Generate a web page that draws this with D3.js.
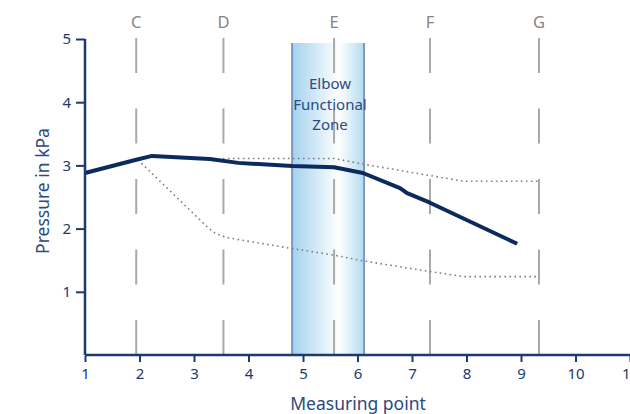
<!DOCTYPE html>
<meta charset="utf-8">
<style>
body { margin: 0; background: #fff; }
text { font-family: "Noto Sans", sans-serif; }
</style>
<body>
<script src="https://d3js.org/d3.v7.min.js"></script>
<script>

// measuring points and pressures (kPa)
var mainX = [1, 1.94, 2.23, 3.29, 3.81, 4.80, 5.57, 6.10, 6.78, 6.91, 7.33, 8.93];
var mainY = [2.88, 3.09, 3.15, 3.10, 3.04, 2.99, 2.97, 2.88, 2.64, 2.56, 2.41, 1.76];

var upperX = [3.53, 5.57, 6.10, 7.94, 9.33];
var upperY = [3.11, 3.11, 3.02, 2.75, 2.75];

var lowerX = [1.97, 3.25, 3.40, 3.60, 3.85, 4.76, 5.57, 6.10, 7.33, 7.94, 9.33];
var lowerY = [3.09, 2.02, 1.92, 1.86, 1.82, 1.69, 1.58, 1.49, 1.32, 1.24, 1.24];

var markerNames = ["C", "D", "E", "F", "G"];
var markerX = [1.94, 3.54, 5.57, 7.33, 9.33];

var zoneX = [4.80, 6.12];
var zoneLabel = ["Elbow", "Functional", "Zone"];

var xTicks = [1, 2, 3, 4, 5, 6, 7, 8, 9, 10, 11];
var yTicks = [1, 2, 3, 4, 5];

var width = 630, height = 414;
var navy = "#1b3a6d";

var x = d3.scaleLinear().domain([1, 11]).range([85, 630]);
var y = d3.scaleLinear().domain([0, 5]).range([355, 39]);

var svg = d3.select("body").append("svg")
    .attr("width", width)
    .attr("height", height);

// gradient for the elbow zone
var grad = svg.append("defs").append("linearGradient")
    .attr("id", "zone")
    .attr("x1", "0%").attr("x2", "100%");
grad.append("stop").attr("offset", "0%").attr("stop-color", "#a3d2ee");
grad.append("stop").attr("offset", "65%").attr("stop-color", "#ffffff");
grad.append("stop").attr("offset", "100%").attr("stop-color", "#b3dbf0");

svg.append("rect")
    .attr("x", x(zoneX[0]))
    .attr("y", 43)
    .attr("width", x(zoneX[1]) - x(zoneX[0]))
    .attr("height", y(0) - 43)
    .attr("fill", "url(#zone)");

svg.selectAll(".zoneEdge")
    .data(zoneX)
  .enter().append("line")
    .attr("class", "zoneEdge")
    .attr("x1", function(d) { return x(d); })
    .attr("x2", function(d) { return x(d); })
    .attr("y1", 43)
    .attr("y2", y(0))
    .attr("stroke", "#7f98c2")
    .attr("stroke-width", 2);

// dashed marker lines
svg.selectAll(".marker")
    .data(markerX)
  .enter().append("line")
    .attr("class", "marker")
    .attr("x1", function(d) { return x(d); })
    .attr("x2", function(d) { return x(d); })
    .attr("y1", 38)
    .attr("y2", y(0))
    .attr("stroke", "#a9a9a9")
    .attr("stroke-width", 2)
    .attr("stroke-dasharray", "35,35.5");

svg.selectAll(".markerName")
    .data(markerNames)
  .enter().append("text")
    .attr("class", "markerName")
    .attr("x", function(d, i) { return x(markerX[i]); })
    .attr("y", 28)
    .attr("text-anchor", "middle")
    .attr("fill", "#858585")
    .style("font-size", "16.5px")
    .text(function(d) { return d; });

// zone label
svg.append("text")
    .attr("x", 330)
    .attr("y", 89)
    .attr("text-anchor", "middle")
    .attr("fill", "#2b4a80")
    .style("font-size", "15px")
    .selectAll("tspan")
    .data(zoneLabel)
  .enter().append("tspan")
    .attr("x", 330)
    .attr("dy", function(d, i) { return i ? 20.5 : 0; })
    .text(function(d) { return d; });

// lines
var line = d3.line()
    .x(function(d) { return x(d[0]); })
    .y(function(d) { return y(d[1]); });

svg.append("path")
    .datum(d3.zip(upperX, upperY))
    .attr("d", line)
    .attr("fill", "none")
    .attr("stroke", "#7f7f7f")
    .attr("stroke-width", 1.6)
    .attr("stroke-dasharray", "1.6,3.4");

svg.append("path")
    .datum(d3.zip(lowerX, lowerY))
    .attr("d", line)
    .attr("fill", "none")
    .attr("stroke", "#7f7f7f")
    .attr("stroke-width", 1.6)
    .attr("stroke-dasharray", "1.6,3.4");

svg.append("path")
    .datum(d3.zip(mainX, mainY))
    .attr("d", line)
    .attr("fill", "none")
    .attr("stroke", "#0b2a5e")
    .attr("stroke-width", 4)
    .attr("stroke-linejoin", "round");

// axes
var xAxis = svg.append("g")
    .attr("transform", "translate(0," + y(0) + ")")
    .call(d3.axisBottom(x).tickValues(xTicks).tickFormat(d3.format("d"))
      .tickSize(7).tickPadding(6).tickSizeOuter(0));

var yAxis = svg.append("g")
    .attr("transform", "translate(" + x(1) + ",0)")
    .call(d3.axisLeft(y).tickValues(yTicks).tickFormat(d3.format("d"))
      .tickSize(9).tickPadding(5).tickSizeOuter(0));

[xAxis, yAxis].forEach(function(g) {
  g.select(".domain").attr("stroke", navy).attr("stroke-width", 2.5);
  g.selectAll(".tick line").attr("stroke", navy).attr("stroke-width", 2);
  g.selectAll(".tick text").attr("fill", navy).style("font-size", "15px")
    .style("font-family", "'Noto Sans', sans-serif");
});
xAxis.select(".domain").attr("d", "M85,0H630");
yAxis.select(".domain").attr("d", "M0," + y(0) + "V39");
xAxis.selectAll(".tick line").attr("y1", 1);

svg.append("text")
    .attr("x", 358)
    .attr("y", 410)
    .attr("text-anchor", "middle")
    .attr("fill", "#2b4a80")
    .style("font-size", "17.5px")
    .text("Measuring point");

svg.append("text")
    .attr("transform", "translate(49,191) rotate(-90)")
    .attr("text-anchor", "middle")
    .attr("fill", "#2b4a80")
    .style("font-size", "17.5px")
    .text("Pressure in kPa");

</script>
